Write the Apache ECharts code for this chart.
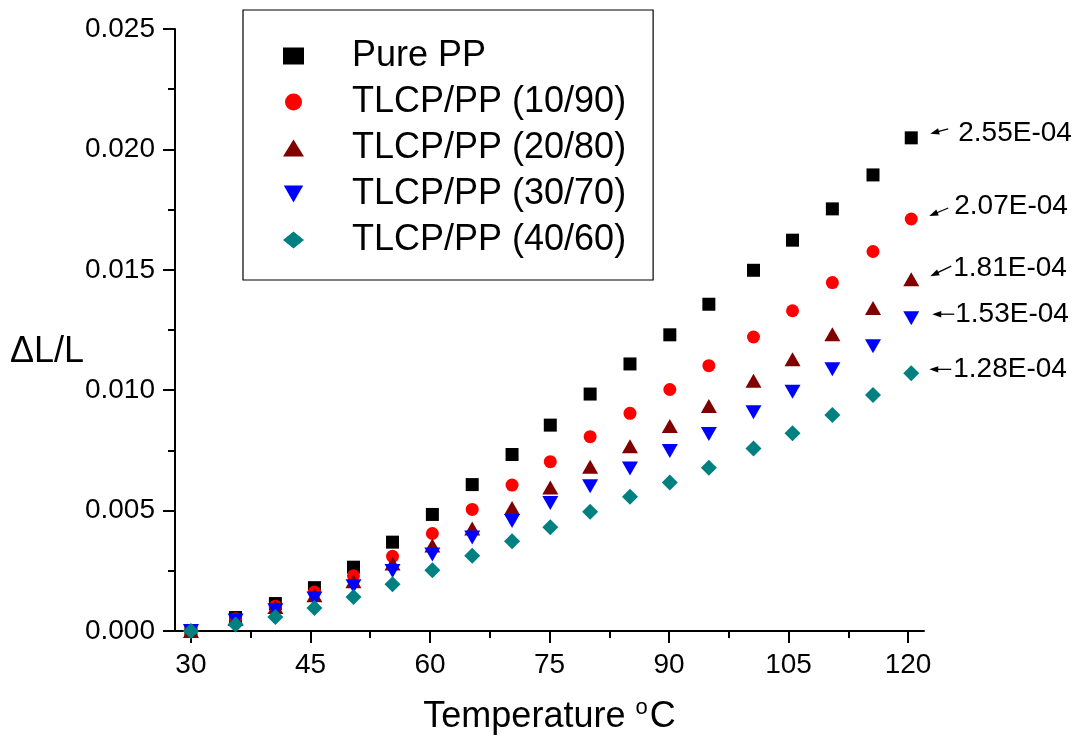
<!DOCTYPE html>
<html><head><meta charset="utf-8">
<script src="https://cdn.jsdelivr.net/npm/echarts@6.0.0/dist/echarts.min.js"></script>
<style>html,body{margin:0;padding:0;background:#fff}#c{width:1077px;height:740px}</style>
</head><body><div id="c"></div>
<script>
// ---- data ----
const temperatures = [30, 35.6, 40.6, 45.5, 50.4, 55.3, 60.3, 65.3, 70.3, 75.1, 80.1, 85.1, 90.1, 95.0, 100.6, 105.5, 110.5, 115.6, 120.4];
const purePP   = [0, 0.00056, 0.00114, 0.00180, 0.00265, 0.00369, 0.00484, 0.00608, 0.00733, 0.00855, 0.00984, 0.01109, 0.01230, 0.01357, 0.01498, 0.01623, 0.01753, 0.01894, 0.02048];
const tlcp1090 = [0, 0.00051, 0.00103, 0.00162, 0.00229, 0.00310, 0.00405, 0.00505, 0.00606, 0.00703, 0.00807, 0.00904, 0.01003, 0.01102, 0.01221, 0.01330, 0.01447, 0.01576, 0.01711];
const tlcp2080 = [0, 0.00050, 0.00100, 0.00148, 0.00207, 0.00280, 0.00355, 0.00426, 0.00511, 0.00596, 0.00682, 0.00767, 0.00851, 0.00934, 0.01039, 0.01129, 0.01232, 0.01341, 0.01461];
const tlcp3070 = [0, 0.00044, 0.00086, 0.00135, 0.00186, 0.00249, 0.00318, 0.00388, 0.00457, 0.00532, 0.00601, 0.00675, 0.00747, 0.00818, 0.00908, 0.00994, 0.01087, 0.01183, 0.01299];
const tlcp4060 = [0, 0.00027, 0.00058, 0.00096, 0.00141, 0.00194, 0.00252, 0.00312, 0.00373, 0.00431, 0.00495, 0.00557, 0.00617, 0.00678, 0.00758, 0.00821, 0.00897, 0.00980, 0.01070];
const seriesNames = ['Pure PP', 'TLCP/PP (10/90)', 'TLCP/PP (20/80)', 'TLCP/PP (30/70)', 'TLCP/PP (40/60)'];
const slopeLabels = ['2.55E-04', '2.07E-04', '1.81E-04', '1.53E-04', '1.28E-04'];
const xLabelTicks = [30, 45, 60, 75, 90, 105, 120];
const xMinorTicks = [37.5, 52.5, 67.5, 82.5, 97.5, 112.5];
const yTickLabels = ['0.000', '0.005', '0.010', '0.015', '0.020', '0.025'];

// ---- styling ----
const FONT = '"Liberation Sans", Arial, sans-serif';
const allValues = [purePP, tlcp1090, tlcp2080, tlcp3070, tlcp4060];
const markerStyles = [
  { symbol: 'rect', size: [13, 13], color: '#000000' },
  { symbol: 'circle', size: 13, color: '#ff0000' },
  { symbol: 'triangle', size: [16, 14], color: '#800000' },
  { symbol: 'path://M0,0L2,0L1,1.75Z', size: [16, 14], color: '#0000ff' },
  { symbol: 'diamond', size: [16, 16], color: '#008080' }
];
const annotLayout = [
  { head: [19, -4], tail: [37, -9], text: [47, -5] },
  { head: [18, -3], tail: [37, -11], text: [43, -13] },
  { head: [19, -3], tail: [40, -13], text: [42, -11] },
  { head: [21, -4], tail: [43, -4], text: [44, -4] },
  { head: [18, -4], tail: [40, -4], text: [42, -4] }
];

const chart = echarts.init(document.getElementById('c'), null, { renderer: 'canvas' });
const axisLineStyle = { color: '#000', width: 2 };

const option = {
  animation: false,
  backgroundColor: '#fff',
  textStyle: { fontFamily: FONT },
  grid: { left: 175, right: 153, top: 29, bottom: 109, containLabel: false },
  legend: {
    orient: 'vertical', left: 243, top: 10,
    padding: [28, 27, 22, 40],
    itemGap: 10, itemWidth: 21, itemHeight: 17,
    borderColor: '#000', borderWidth: 1.2,
    formatter: (name) => '{g|\u00a0}{t|' + name + '}',
    textStyle: { fontSize: 36, color: '#000', fontFamily: FONT,
      rich: { g: { width: 43, fontSize: 36, fontFamily: FONT }, t: { fontSize: 36, color: '#000', fontFamily: FONT } } },
    data: seriesNames
  },
  xAxis: [{
    type: 'value', min: 28, max: 122,
    axisLine: { show: true, lineStyle: axisLineStyle },
    axisTick: { show: true, customValues: xLabelTicks, length: 12, lineStyle: axisLineStyle },
    axisLabel: { customValues: xLabelTicks, fontSize: 28, color: '#000', margin: 20, fontFamily: FONT },
    splitLine: { show: false },
    name: 'Temperature {sup|o}C', nameLocation: 'middle', nameGap: 66,
    nameTextStyle: { fontSize: 36, color: '#000', fontFamily: FONT,
      rich: { sup: { fontSize: 22, color: '#000', fontFamily: FONT, padding: [0, 2, 18, 0] } } }
  }, {
    type: 'value', min: 28, max: 122, position: 'bottom',
    axisLine: { show: false },
    axisTick: { show: true, customValues: xMinorTicks, length: 7, lineStyle: axisLineStyle },
    axisLabel: { show: false },
    splitLine: { show: false }
  }],
  yAxis: {
    type: 'value', min: 0, max: 0.025, interval: 0.005,
    axisLine: { show: true, lineStyle: axisLineStyle },
    axisTick: { show: true, length: 12, lineStyle: axisLineStyle },
    minorTick: { show: true, splitNumber: 2, length: 7, lineStyle: axisLineStyle },
    axisLabel: { fontSize: 28, color: '#000', margin: 20, fontFamily: FONT,
      formatter: (v) => yTickLabels[Math.round(v / 0.005)] },
    splitLine: { show: false }, minorSplitLine: { show: false }
  },
  series: seriesNames.map((name, i) => ({
    name, type: 'scatter', xAxisIndex: 0,
    symbol: markerStyles[i].symbol, symbolSize: markerStyles[i].size,
    itemStyle: { color: markerStyles[i].color, opacity: 1 },
    emphasis: { disabled: true },
    z: 2 + i,
    data: temperatures.map((t, k) => [t, allValues[i][k]])
  }))
};
chart.setOption(option);

// ---- annotations anchored to last points via the chart's own scales ----
const graphics = [{
  type: 'text', left: 10, top: 334,
  style: { text: 'ΔL/L', fontSize: 36, fill: '#000', fontFamily: FONT }
}];
seriesNames.forEach((name, i) => {
  const n = temperatures.length - 1;
  const p = chart.convertToPixel({ seriesIndex: i }, [temperatures[n], allValues[i][n]]);
  const L = annotLayout[i];
  const hx = p[0] + L.head[0], hy = p[1] + L.head[1];
  const tx = p[0] + L.tail[0], ty = p[1] + L.tail[1];
  const dx = hx - tx, dy = hy - ty, len = Math.hypot(dx, dy);
  const ux = dx / len, uy = dy / len;
  const al = 9, aw = 3.2;
  const bx = hx - ux * al, by = hy - uy * al;
  graphics.push({ type: 'line', shape: { x1: tx, y1: ty, x2: bx + ux * 2, y2: by + uy * 2 }, style: { stroke: '#000', lineWidth: 1.3 } });
  graphics.push({ type: 'polygon', shape: { points: [[hx, hy], [bx - uy * aw, by + ux * aw], [bx + uy * aw, by - ux * aw]] }, style: { fill: '#000' } });
  graphics.push({ type: 'text', x: p[0] + L.text[0], y: p[1] + L.text[1],
    style: { text: slopeLabels[i], fontSize: 28, fill: '#000', fontFamily: FONT, verticalAlign: 'middle', align: 'left' } });
});
chart.setOption({ graphic: graphics });
</script>
</body></html>
